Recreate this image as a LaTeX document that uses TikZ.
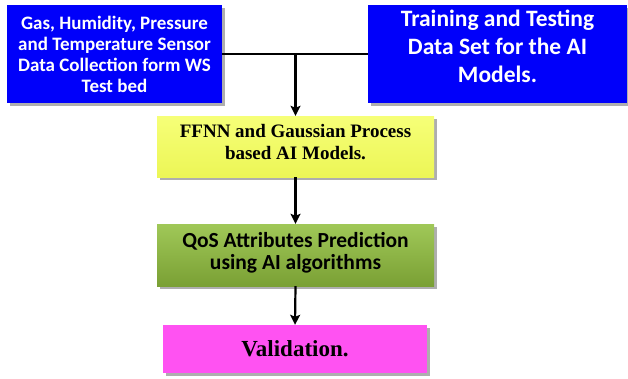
\documentclass[tikz,border=0pt]{standalone}
\usepackage{fontspec}
\setmainfont{Liberation Serif}
\newfontfamily\calfont{Carlito}
\usetikzlibrary{arrows.meta,shadows}
\definecolor{boxblue}{RGB}{0,0,250}
\definecolor{yeltop}{RGB}{246,255,120}
\definecolor{yelbot}{RGB}{236,246,86}
\definecolor{grntop}{RGB}{160,200,88}
\definecolor{grnbot}{RGB}{122,160,52}
\definecolor{magcol}{RGB}{255,82,242}
\tikzset{
  box/.style={rectangle, inner sep=2pt, align=center,
    drop shadow={shadow xshift=2.5pt, shadow yshift=-2.5pt, fill=black!45, opacity=0.7}},
  bluebox/.style={box, fill=boxblue, text=white},
  conn/.style={line width=2.2pt, black},
  arr/.style={conn, -{Stealth[length=10pt,width=10pt,inset=2pt]}},
}
\begin{document}
\begin{tikzpicture}[x=1pt,y=-1pt]
\useasboundingbox (0,0) rectangle (628,378);
\node[bluebox, minimum width=215pt, minimum height=98pt,
  font=\calfont\bfseries\fontsize{19}{21}\selectfont] (b1) at (114.5,54)
  {Gas, Humidity, Pressure\\and Temperature Sensor\\Data Collection form WS\\Test bed};
\node[bluebox, minimum width=259pt, minimum height=98pt, text depth=16pt,
  font=\calfont\bfseries\fontsize{23.5}{28}\selectfont] (b2) at (497.5,54)
  {Training and Testing\\Data Set for the AI\\Models.};
\node[box, top color=yeltop, bottom color=yelbot, minimum width=277pt, minimum height=61pt,
  text depth=9pt, font=\bfseries\fontsize{19}{22}\selectfont] (b3) at (295.5,146.5)
  {FFNN and Gaussian Process\\based AI Models.};
\node[box, top color=grntop, bottom color=grnbot, minimum width=277pt, minimum height=62pt,
  text depth=8pt, font=\calfont\bfseries\fontsize{21.5}{21.5}\selectfont] (b4) at (295.5,255)
  {QoS Attributes Prediction\\using AI algorithms};
\node[box, fill=magcol, minimum width=264pt, minimum height=48pt,
  font=\bfseries\fontsize{23}{26}\selectfont] (b5) at (295,349)
  {Validation.};
\coordinate (j) at (b3.north |- b1.east);
\draw[conn] (b1.east) -- (b2.west);
\draw[arr] (j) -- (b3.north);
\draw[arr] (b3.south) -- (b4.north);
\draw[arr] (b4.south) -- (b5.north);
\end{tikzpicture}
\end{document}
